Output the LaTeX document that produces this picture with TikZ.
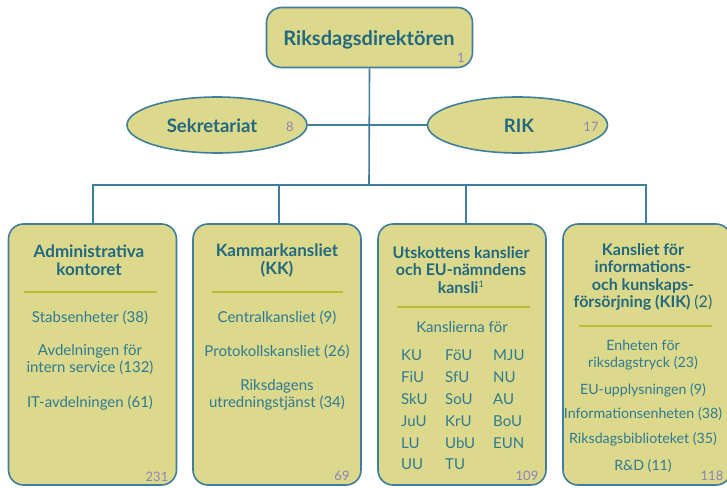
\documentclass[tikz,border=0pt]{standalone}
\usepackage{fontspec}
\setmainfont{Lato}
\usetikzlibrary{shapes.geometric}
\definecolor{boxfill}{HTML}{DCD98C}
\definecolor{boxline}{HTML}{3F7E9C}
\definecolor{titlec}{HTML}{22687E}
\definecolor{bodyc}{HTML}{2F7A92}
\definecolor{numc}{HTML}{8E82BD}
\definecolor{sepc}{HTML}{BDBB3A}
\tikzset{
  box/.style={draw=boxline, fill=boxfill, line width=1.6pt, rounded corners=15pt, inner sep=0pt},
  oval/.style={ellipse, draw=boxline, fill=boxfill, line width=1.6pt, inner sep=0pt, minimum width=180pt, minimum height=56pt},
  conn/.style={draw=boxline, line width=1.6pt},
  title/.style={font=\fontsize{17}{18}\selectfont\bfseries, text=titlec, align=center, inner sep=0pt},
  body/.style={font=\fontsize{15}{17}\selectfont, text=bodyc, align=center, inner sep=0pt},
  num/.style={font=\fontsize{13}{14}\selectfont, text=numc, inner sep=0pt},
  sep/.style={draw=sepc, line width=1.6pt},
}
\begin{document}
\begin{tikzpicture}[x=1pt,y=-1pt]
\useasboundingbox (0,0) rectangle (727,487);
\clip (0,0) rectangle (727,487);
\coordinate (busL) at (93,185);
\coordinate (busR) at (646,185);
\coordinate (c2) at (279,185);
\coordinate (c3) at (466,185);
\coordinate (ctop) at (369,185);
% shapes
\node[box, minimum width=206pt, minimum height=60pt] (top) at (369.5,37.5) {};
\node[oval] (sek) at (217,125) {};
\node[oval] (rik) at (517.5,125) {};
\node[box, minimum width=168pt, minimum height=261pt] (b1) at (92.5,354.5) {};
\node[box, minimum width=168pt, minimum height=261pt] (b2) at (277,354.5) {};
\node[box, minimum width=168pt, minimum height=261pt] (b3) at (462,354.5) {};
\node[box, minimum width=168pt, minimum height=261pt] (b4) at (647,354.5) {};
% connectors
\draw[conn] (top.south) -- (ctop);
\draw[conn] (sek.east) -- (rik.west);
\draw[conn] (busL |- b1.north) -- (busL) -- (busR) -- (busR |- b4.north);
\draw[conn] (c2) -- (c2 |- b2.north);
\draw[conn] (c3) -- (c3 |- b3.north);
% texts
\node[title, font=\fontsize{20}{22}\selectfont\bfseries] (toptxt) at (369,40) {Riksdagsdirektören};
\node[num] (topnum) at (461,58) {1};
\node[title, font=\fontsize{18.5}{20}\selectfont\bfseries] (sektxt) at (212,126) {Sekretariat};
\node[num] (seknum) at (290,127) {8};
\node[title, font=\fontsize{18.5}{20}\selectfont\bfseries] (riktxt) at (519,126) {RIK};
\node[num] (riknum) at (591,127) {17};
% box 1
\node[title] (t1) at (89,260.5) {Administrativa\\kontoret};
\draw[sep] (24,292) -- (157,292);
\node[body] (s11) at (90,318) {Stabsenheter (38)};
\node[body] (s12) at (90,359.5) {Avdelningen för\\intern service (132)};
\node[body] (s13) at (90,403) {IT-avdelningen (61)};
\node[num] (n1) at (157,477) {231};
% box 2
\node[title] (t2) at (277,260.5) {Kammarkansliet\\(KK)};
\draw[sep] (212,292) -- (343,292);
\node[body] (s21) at (277,318) {Centralkansliet (9)};
\node[body] (s22) at (277,352) {Protokollskansliet (26)};
\node[body] (s23) at (277,394.5) {Riksdagens\\utredningstjänst (34)};
\node[num] (n2) at (342,476) {69};
% box 3
\node[title, font=\fontsize{16}{17.8}\selectfont\bfseries] (t3) at (461,270) {Utskottens kanslier\\och EU-nämndens\\kansli\textsuperscript{\fontsize{9}{9}\selectfont\mdseries 1}};
\draw[sep] (397,307) -- (530,307);
\node[body] (s31) at (462,327) {Kanslierna för};
\node[body, anchor=west, align=left, font=\fontsize{15}{21.8}\selectfont] (grid) at (401,411) {%
\begin{tabular}{@{}p{32pt}p{36pt}l@{}}
KU & FöU & MJU\\
FiU & SfU & NU\\
SkU & SoU & AU\\
JuU & KrU & BoU\\
LU & UbU & EUN\\
UU & TU & \\
\end{tabular}};
\node[num] (n3) at (527,476) {109};
% box 4
\node[title, font=\fontsize{16}{17.2}\selectfont\bfseries] (t4) at (643,277) {Kansliet för\\informations-\\och kunskaps-\\försörjning (KIK) {\mdseries(2)}};
\draw[sep] (579,326) -- (712,326);
\node[body, font=\fontsize{14.2}{17}\selectfont] (s41) at (643,355.5) {Enheten för\\riksdagstryck (23)};
\node[body, font=\fontsize{14.2}{17}\selectfont] (s42) at (643,390) {EU-upplysningen (9)};
\node[body, font=\fontsize{14.2}{17}\selectfont] (s43) at (643,414) {Informationsenheten (38)};
\node[body, font=\fontsize{14.2}{17}\selectfont] (s44) at (643,439) {Riksdagsbiblioteket (35)};
\node[body, font=\fontsize{14.2}{17}\selectfont] (s45) at (643,466) {R\&D (11)};
\node[num] (n4) at (712,476) {118};
\end{tikzpicture}
\end{document}
